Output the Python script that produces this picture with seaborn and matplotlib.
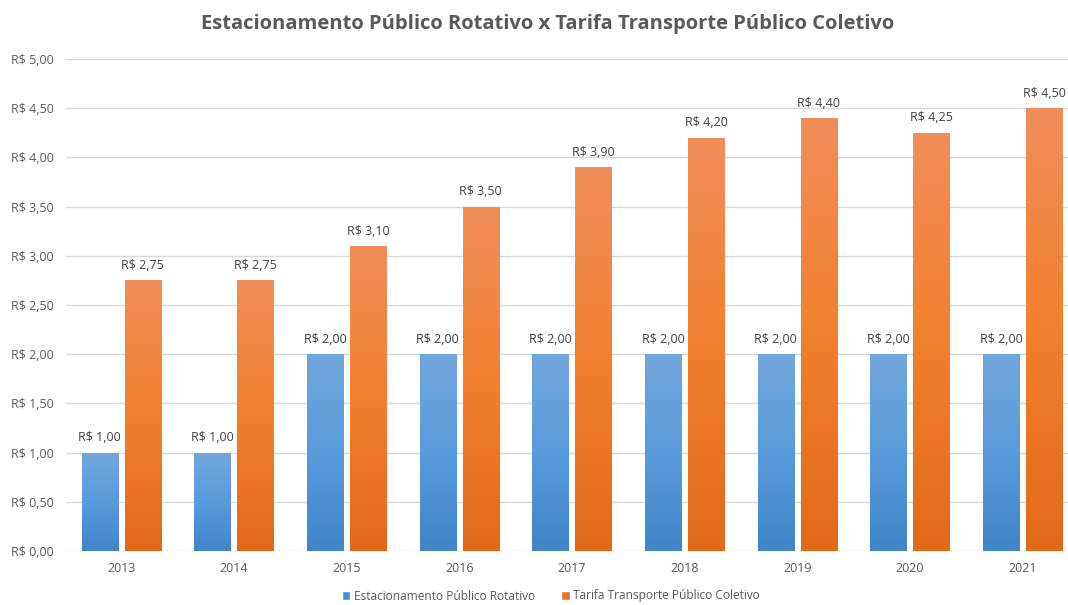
import numpy as np
import pandas as pd
import matplotlib
matplotlib.use("Agg")
import matplotlib.pyplot as plt
import seaborn as sns
from matplotlib.colors import LinearSegmentedColormap
from matplotlib.patches import Patch

anos = ["2013", "2014", "2015", "2016", "2017", "2018", "2019", "2020", "2021"]
estacionamento = [1.00, 1.00, 2.00, 2.00, 2.00, 2.00, 2.00, 2.00, 2.00]
tarifa = [2.75, 2.75, 3.10, 3.50, 3.90, 4.20, 4.40, 4.25, 4.50]
serie_nomes = ["Estacionamento Público Rotativo", "Tarifa Transporte Público Coletivo"]
titulo = "Estacionamento Público Rotativo x Tarifa Transporte Público Coletivo"

df = pd.DataFrame({
    "Ano": anos * 2,
    "Valor": estacionamento + tarifa,
    "Serie": [serie_nomes[0]] * len(anos) + [serie_nomes[1]] * len(anos),
})

sns.set_theme(style="white")
plt.rcParams["font.family"] = ["Open Sans", "DejaVu Sans"]

fig = plt.figure(figsize=(10.68, 6.05), dpi=100)
W, H = 1068, 605
left, right, top, bottom = 66, 1068, 59, 551
ax = fig.add_axes([left / W, 1 - bottom / H, (right - left) / W, (bottom - top) / H])

cores = {serie_nomes[0]: "#5B9BD5", serie_nomes[1]: "#ED7D31"}
sns.barplot(data=df, x="Ano", y="Valor", hue="Serie", palette=cores,
            width=0.764, gap=0.16, ax=ax, legend=True, zorder=2)

grads = {
    0: LinearSegmentedColormap.from_list("b", ["#3F86C8", "#5A9ADA", "#72A7DC"]),
    1: LinearSegmentedColormap.from_list("o", ["#E2691A", "#F27F2E", "#F08E59"]),
}
grad = np.linspace(0, 1, 256).reshape(-1, 1)
for i, cont in enumerate(ax.containers):
    for patch in cont:
        x0, y0 = patch.get_x(), patch.get_y()
        w, h = patch.get_width(), patch.get_height()
        im = ax.imshow(grad, cmap=grads[i], aspect="auto", origin="lower",
                       extent=[x0, x0 + w, y0, y0 + h], zorder=3)
        im.set_clip_path(patch)
        patch.set_edgecolor("none")
    labels = [f"R$ {v:.2f}".replace(".", ",") for v in cont.datavalues]
    ax.bar_label(cont, labels=labels, padding=6, fontsize=9, color="#404040", zorder=4)

ax.set_ylim(0, 5)
ax.set_xlim(-0.49, 8.5 - (1079 - 1068) / 112.6)
ax.set_yticks(np.arange(0, 5.01, 0.5))
ax.set_yticklabels([f"R$ {v:.2f}".replace(".", ",") for v in np.arange(0, 5.01, 0.5)])
ax.yaxis.grid(True, color="#D9D9D9", linewidth=1, zorder=0)
ax.set_axisbelow(True)
for s in ax.spines.values():
    s.set_visible(False)
ax.tick_params(axis="both", length=0, labelsize=9, colors="#595959")
ax.tick_params(axis="y", pad=9)
ax.tick_params(axis="x", pad=8)
ax.set_xlabel("")
ax.set_ylabel("")

ax.legend_.remove()
handles = [Patch(facecolor="#4A8FD2"), Patch(facecolor="#EC7424")]
fig.legend(handles, serie_nomes, loc="center", bbox_to_anchor=(551 / W, 1 - 596 / H),
           ncol=2, frameon=False, fontsize=8.6, handlelength=0.7, handleheight=0.7,
           handletextpad=0.3, columnspacing=2.2, labelcolor="#595959")

fig.text(548 / W, 1 - 24 / H, titulo, ha="center", va="center",
         fontsize=14.5, fontweight="bold", color="#595959")

fig.savefig("out.png", dpi=100)
